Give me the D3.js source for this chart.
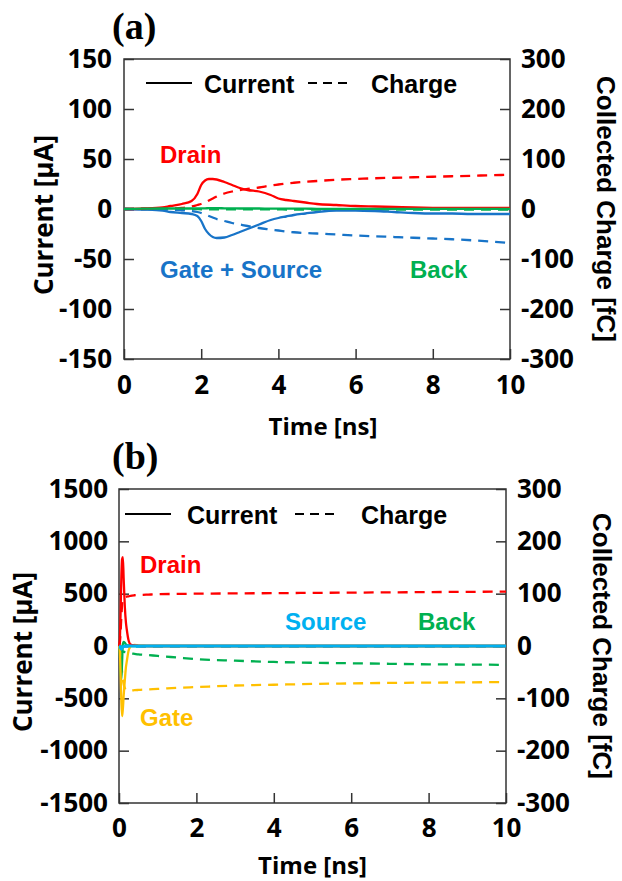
<!DOCTYPE html>
<html>
<head>
<meta charset="utf-8">
<script src="https://cdn.jsdelivr.net/npm/d3@7"></script>
<style>
  html, body { margin: 0; padding: 0; background: #fff; }
  svg { display: block; }
</style>
</head>
<body>
<svg id="chart" width="622" height="881"></svg>
<script>
// ---------------- DATA ----------------
// Panel (a)
const timeA = [0, 0.5, 1.0, 1.2, 1.5, 1.75, 1.9, 2.0, 2.1, 2.2, 2.3, 2.4, 2.6, 2.8, 3.0, 3.2, 3.5, 3.8, 4.0, 4.2, 4.4, 4.7, 5.0, 5.5, 6.0, 6.5, 7.0, 7.5, 8.0, 8.5, 9.0, 9.5, 10];
const drainCurrentA = [0, 0.5, 1.5, 3, 5, 8, 15, 24, 28.5, 30, 30, 29.5, 27, 24, 21, 19, 17.5, 14, 10.5, 9, 8, 6.5, 5, 4, 3, 2.5, 2, 1.5, 1.2, 1, 1, 1, 1];
const gateSourceCurrentA = [0, -0.5, -1.5, -3, -4, -5, -7, -12, -20, -25, -28, -29, -28.5, -26, -23, -20, -15.5, -11, -9, -7.5, -6, -4.5, -3, -1.5, -1.5, -2, -3, -4, -4.5, -4.5, -5, -5, -5];
const backCurrentA = [0, 0.3, 0.5, 0.5, 0.5, 0.5, 0.5, 0.7, 0.7, 0.8, 0.8, 0.8, 0.7, 0.6, 0.5, 0.5, 0.5, 0.4, 0.4, 0.3, 0.3, 0.3, 0.2, 0.2, 0.2, 0.2, 0.2, 0.2, 0.2, 0.2, 0.2, 0.2, 0.2];
const drainChargeA = [0, 0, 0.5, 1, 2, 5, 8, 10, 13, 17, 21, 25, 31, 35, 38, 40, 43, 47, 49, 51, 52.5, 54.5, 56, 58.5, 60, 61.5, 62.5, 63.5, 64.5, 65.5, 66.5, 67.5, 68.5];
const gateSourceChargeA = [0, 0, -0.5, -1, -2.5, -4, -6, -8, -11, -14, -17, -20, -24, -28, -31, -34, -38, -41, -43, -45, -46.5, -48, -49, -51, -53, -54.5, -56, -57.5, -59, -60.5, -62.5, -65, -68];
const backChargeA = [0, 0, 0, 0, -0.2, -0.3, -0.4, -0.5, -0.5, -0.6, -0.6, -0.7, -0.7, -0.8, -0.8, -0.8, -0.9, -0.9, -0.9, -1, -1, -1, -1, -1, -1, -1, -1, -1, -1, -1, -1, -1, -1];

// Panel (b)
const timeB = [0, 0.02, 0.04, 0.06, 0.08, 0.1, 0.12, 0.15, 0.18, 0.2, 0.25, 0.3, 0.4, 0.5, 0.7, 1, 1.5, 2, 3, 4, 5, 6, 7, 8, 9, 10];
const drainCurrentB = [0, 50, 300, 650, 830, 850, 650, 380, 220, 160, 50, 15, 5, 2, 0, 0, 0, 0, 0, 0, 0, 0, 0, 0, 0, 0];
const gateCurrentB = [0, -40, -250, -520, -670, -600, -480, -330, -200, -150, -40, -5, 10, 5, 2, 0, 0, 0, 0, 0, 0, 0, 0, 0, 0, 0];
const backCurrentB = [0, -60, -250, -320, -150, 20, 40, 30, 15, 10, 5, 2, 0, 0, 0, 0, 0, 0, 0, 0, 0, 0, 0, 0, 0, 0];
const sourceCurrentB = [0, -5, -20, -30, -20, -10, -5, 0, 0, 0, 0, 0, 0, 0, 0, 0, 0, 0, 0, 0, 0, 0, 0, 0, 0, 0];
const drainChargeB = [0, 5, 25, 55, 78, 88, 92, 93, 94, 94.5, 95, 96, 97, 97.5, 98, 99, 99.5, 100, 100.5, 101, 101.5, 102, 102.5, 103, 103.5, 104];
const gateChargeB = [0, -2, -12, -30, -50, -64, -73, -80, -83, -84, -85, -85, -84.5, -84, -83, -82, -80, -78.5, -75.5, -74, -72.5, -71.5, -70.5, -70, -69.5, -69];
const backChargeB = [0, -2, -6, -10, -11, -11, -11, -11.5, -12, -12.5, -13, -14, -15, -16, -17, -19, -22, -25, -28, -30.5, -32, -33, -34, -35, -35.5, -36];
const sourceChargeB = [0, 0, -0.5, -1, -1, -1, -1, -1, -1, -1, -1, -1, -1, -1, -1, -1, -1, -1, -1, -1, -1, -1, -1, -1, -1, -1];

// Tick labels
const timeTicks = [0, 2, 4, 6, 8, 10];
const currentTicksA = [-150, -100, -50, 0, 50, 100, 150];
const chargeTicksA = [-300, -200, -100, 0, 100, 200, 300];
const currentTicksB = [-1500, -1000, -500, 0, 500, 1000, 1500];
const chargeTicksB = [-300, -200, -100, 0, 100, 200, 300];

// Labels
const panelLabels = ["(a)", "(b)"];
const xTitle = "Time [ns]";
const yTitleLeft = "Current [µA]";
const yTitleRight = "Collected Charge [fC]";
const legendLabels = ["Current", "Charge"];

// ---------------- DRAWING ----------------
const C = { red: "#ff0000", blue: "#1874c8", green: "#00b050", cyan: "#00b0f0", gold: "#ffc000" };
const svg = d3.select("#chart");
const TICK_FONT = "'Open Sans', sans-serif";
const ARIAL = "'Liberation Sans', Arial, sans-serif";

function drawPanel(p) {
  const g = svg.append("g");
  const x = d3.scaleLinear().domain([0, 10]).range([p.left, p.right]);
  const yL = d3.scaleLinear().domain(p.currentDomain).range([p.bottom, p.top]);
  const yR = d3.scaleLinear().domain([-300, 300]).range([p.bottom, p.top]);

  const styleAxis = sel => {
    sel.select(".domain").remove();
    sel.selectAll(".tick line").attr("stroke", "#333").attr("stroke-width", 1.5);
    sel.selectAll(".tick text")
      .attr("font-family", TICK_FONT).attr("font-weight", 700)
      .attr("font-size", 26).attr("fill", "#000");
  };

  g.append("g").attr("transform", `translate(${p.left},0)`)
    .call(d3.axisLeft(yL).tickValues(p.currentTicks).tickSize(-10).tickPadding(p.leftPad).tickFormat(d => String(d)))
    .call(styleAxis);
  g.append("g").attr("transform", `translate(${p.right},0)`)
    .call(d3.axisRight(yR).tickValues(p.chargeTicks).tickSize(-10).tickPadding(p.rightPad).tickFormat(d => String(d)))
    .call(styleAxis);
  g.append("g").attr("transform", `translate(0,${p.bottom})`)
    .call(d3.axisBottom(x).tickValues(timeTicks).tickSize(-10).tickPadding(p.bottomPad).tickFormat(d => String(d)))
    .call(styleAxis);

  g.append("rect")
    .attr("x", p.left).attr("y", p.top)
    .attr("width", p.right - p.left).attr("height", p.bottom - p.top)
    .attr("fill", "none").attr("stroke", "#333").attr("stroke-width", 1.5);

  // series
  const lineL = d3.line().x((d, i) => x(p.time[i])).y(d => yL(d)).curve(d3.curveMonotoneX);
  const lineR = d3.line().x((d, i) => x(p.time[i])).y(d => yR(d)).curve(d3.curveMonotoneX);
  p.charges.forEach(s => {
    g.append("path").attr("d", lineR(s.values)).attr("fill", "none")
      .attr("stroke", s.color).attr("stroke-width", 2.3).attr("stroke-dasharray", "10,7");
  });
  p.currents.forEach(s => {
    g.append("path").attr("d", lineL(s.values)).attr("fill", "none")
      .attr("stroke", s.color).attr("stroke-width", s.width || 2.3);
  });

  // legend
  const lg = p.legend;
  g.append("line").attr("x1", lg.x1).attr("x2", lg.x1 + 46).attr("y1", lg.y).attr("y2", lg.y)
    .attr("stroke", "#000").attr("stroke-width", 2);
  g.append("text").attr("x", lg.t1).attr("y", lg.y + 10).text(legendLabels[0])
    .attr("font-family", ARIAL).attr("font-weight", 700).attr("font-size", 25);
  g.append("line").attr("x1", lg.x2).attr("x2", lg.x2 + 42).attr("y1", lg.y).attr("y2", lg.y)
    .attr("stroke", "#000").attr("stroke-width", 2).attr("stroke-dasharray", "9,6");
  g.append("text").attr("x", lg.t2).attr("y", lg.y + 10).text(legendLabels[1])
    .attr("font-family", ARIAL).attr("font-weight", 700).attr("font-size", 25);

  // annotations
  p.notes.forEach(n => {
    g.append("text").attr("x", n.x).attr("y", n.y).text(n.text).attr("fill", n.color)
      .attr("font-family", ARIAL).attr("font-weight", 700).attr("font-size", 24);
  });

  // titles
  g.append("text").attr("x", (p.left + p.right) / 2 + p.xTitleDx).attr("y", p.xTitleY)
    .attr("text-anchor", "middle").text(xTitle)
    .attr("font-family", TICK_FONT).attr("font-weight", 700).attr("font-size", 24);
  g.append("text").attr("transform", `translate(${p.yLeftX},${(p.top + p.bottom) / 2 + 6}) rotate(-90)`)
    .attr("text-anchor", "middle").text(yTitleLeft)
    .attr("font-family", TICK_FONT).attr("font-weight", 700).attr("font-size", 26);
  g.append("text").attr("transform", `translate(${p.yRightX},${(p.top + p.bottom) / 2}) rotate(90)`)
    .attr("text-anchor", "middle").text(yTitleRight)
    .attr("font-family", ARIAL).attr("font-weight", 700).attr("font-size", 26);

  g.append("text").attr("x", p.labelX).attr("y", p.labelY).text(p.label)
    .attr("font-family", "'Liberation Serif', 'Times New Roman', serif").attr("font-weight", 700).attr("font-size", 38);
}

drawPanel({
  left: 124, right: 510, top: 59, bottom: 359,
  currentDomain: [-150, 150], currentTicks: currentTicksA, chargeTicks: chargeTicksA,
  leftPad: 12, rightPad: 11, bottomPad: 17,
  time: timeA,
  currents: [
    { values: gateSourceCurrentA, color: C.blue },
    { values: drainCurrentA, color: C.red },
    { values: backCurrentA, color: C.green }
  ],
  charges: [
    { values: backChargeA, color: C.green },
    { values: drainChargeA, color: C.red },
    { values: gateSourceChargeA, color: C.blue }
  ],
  legend: { x1: 146, t1: 204, x2: 308, t2: 371, y: 83 },
  notes: [
    { text: "Drain", x: 160, y: 163, color: C.red },
    { text: "Gate + Source", x: 160, y: 278, color: C.blue },
    { text: "Back", x: 410, y: 278, color: C.green }
  ],
  xTitleDx: 6, xTitleY: 435, yLeftX: 53, yRightX: 597,
  label: panelLabels[0], labelX: 112, labelY: 39
});

drawPanel({
  left: 119, right: 506, top: 489, bottom: 803,
  currentDomain: [-1500, 1500], currentTicks: currentTicksB, chargeTicks: chargeTicksB,
  leftPad: 11, rightPad: 11, bottomPad: 16,
  time: timeB,
  currents: [
    { values: backCurrentB, color: C.green },
    { values: gateCurrentB, color: C.gold },
    { values: drainCurrentB, color: C.red },
    { values: sourceCurrentB, color: C.cyan, width: 3 }
  ],
  charges: [
    { values: sourceChargeB, color: C.cyan },
    { values: backChargeB, color: C.green },
    { values: gateChargeB, color: C.gold },
    { values: drainChargeB, color: C.red }
  ],
  legend: { x1: 125, t1: 187, x2: 295, t2: 361, y: 514 },
  notes: [
    { text: "Drain", x: 140, y: 573, color: C.red },
    { text: "Source", x: 285, y: 630, color: C.cyan },
    { text: "Back", x: 418, y: 630, color: C.green },
    { text: "Gate", x: 140, y: 726, color: C.gold }
  ],
  xTitleDx: 0, xTitleY: 874, yLeftX: 32, yRightX: 593,
  label: panelLabels[1], labelX: 112, labelY: 469
});
</script>
</body>
</html>
